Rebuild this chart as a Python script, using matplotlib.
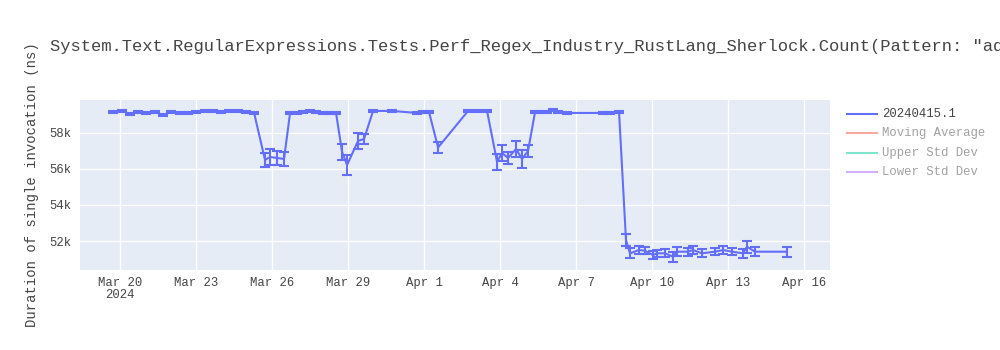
import matplotlib
matplotlib.use("Agg")
import matplotlib.pyplot as plt
from matplotlib.lines import Line2D
import pandas as pd

FONT = ["Liberation Mono", "DejaVu Sans Mono"]

dates = [
    "2024-03-19 17:20", "2024-03-20 02:00", "2024-03-20 09:30", "2024-03-20 17:00",
    "2024-03-21 00:40", "2024-03-21 09:10", "2024-03-21 16:45", "2024-03-22 00:20",
    "2024-03-22 08:50", "2024-03-22 16:25", "2024-03-23 00:00", "2024-03-23 08:30",
    "2024-03-23 16:10", "2024-03-23 23:40", "2024-03-24 07:15", "2024-03-24 15:50",
    "2024-03-24 23:20", "2024-03-25 07:00",
    "2024-03-25 17:20", "2024-03-25 22:10", "2024-03-26 04:45", "2024-03-26 11:20",
    "2024-03-26 17:05", "2024-03-26 23:40", "2024-03-27 05:25", "2024-03-27 12:00",
    "2024-03-27 17:40", "2024-03-28 00:20", "2024-03-28 07:00", "2024-03-28 12:40",
    "2024-03-28 18:20", "2024-03-28 23:05", "2024-03-29 09:30", "2024-03-29 15:10",
    "2024-03-29 23:45", "2024-03-30 17:45", "2024-03-31 17:25", "2024-03-31 23:05",
    "2024-04-01 04:45", "2024-04-01 13:20", "2024-04-02 17:45", "2024-04-03 02:15",
    "2024-04-03 11:45",
    "2024-04-03 21:15", "2024-04-04 01:55", "2024-04-04 07:40", "2024-04-04 15:15",
    "2024-04-04 20:55", "2024-04-05 02:35",
    "2024-04-05 09:15", "2024-04-05 14:00", "2024-04-05 20:35", "2024-04-06 02:15",
    "2024-04-06 07:00", "2024-04-06 15:30", "2024-04-08 01:40", "2024-04-08 08:15",
    "2024-04-08 16:50",
    "2024-04-08 23:25", "2024-04-09 03:15", "2024-04-09 11:45", "2024-04-09 17:25",
    "2024-04-10 01:00", "2024-04-10 04:50", "2024-04-10 12:25", "2024-04-10 20:00",
    "2024-04-10 23:45", "2024-04-11 10:10", "2024-04-11 14:55", "2024-04-11 23:25",
    "2024-04-12 11:45", "2024-04-12 19:20", "2024-04-13 03:50", "2024-04-13 14:15",
    "2024-04-13 18:05", "2024-04-14 01:40", "2024-04-15 08:00",
]

durations = [
    59167, 59222, 59056, 59167, 59111, 59167, 59000, 59167,
    59111, 59111, 59167, 59222, 59222, 59167, 59222, 59222,
    59167, 59111,
    56500, 56667, 56611, 56556,
    59111, 59111, 59167, 59222, 59167, 59111, 59111, 59111,
    56944, 56222, 57556, 57667, 59222, 59222, 59111, 59167,
    59167, 57194, 59222, 59222, 59222,
    56389, 56889, 56611, 57111, 56556, 57000,
    59167, 59167, 59167, 59278, 59167, 59111, 59111, 59111,
    59167,
    52056, 51317, 51500, 51461, 51222, 51317, 51317, 51128,
    51406, 51406, 51500, 51317, 51406, 51500, 51406, 51317,
    51683, 51406, 51406,
]

errors = [
    60, 60, 60, 60, 60, 60, 60, 60,
    60, 60, 60, 60, 60, 60, 60, 60,
    60, 60,
    390, 420, 390, 390,
    60, 60, 60, 60, 60, 60, 60, 60,
    420, 580, 450, 300, 60, 60, 60, 60,
    60, 280, 60, 60, 60,
    420, 450, 330, 440, 500, 330,
    60, 60, 60, 60, 60, 60, 60, 60,
    60,
    330, 280, 200, 200, 200, 200, 220, 280,
    250, 220, 220, 220, 200, 200, 200, 250,
    330, 250, 280,
]

tick_dates = ["2024-03-20", "2024-03-23", "2024-03-26", "2024-03-29", "2024-04-01",
              "2024-04-04", "2024-04-07", "2024-04-10", "2024-04-13", "2024-04-16"]
tick_labels = ["Mar 20\n2024", "Mar 23", "Mar 26", "Mar 29", "Apr 1",
               "Apr 4", "Apr 7", "Apr 10", "Apr 13", "Apr 16"]
y_ticks = [52000, 54000, 56000, 58000]
y_tick_labels = ["52k", "54k", "56k", "58k"]

series_name = "20240415.1"
hidden_series = ["Moving Average", "Upper Std Dev", "Lower Std Dev"]
hidden_colors = ["#EF553B", "#00cc96", "#ab63fa"]
title = ('System.Text.RegularExpressions.Tests.Perf_Regex_Industry_RustLang_Sherlock.'
         'Count(Pattern: "aqj", Options: None)')
ylabel = "Duration of single invocation (ns)"

LINE = "#636efa"
TXT = "#444444"

x = pd.to_datetime(dates)
fig = plt.figure(figsize=(10, 3.5), dpi=100)
ax = fig.add_axes([0.08, 1 - 270 / 350, 0.75, 170 / 350])
ax.set_facecolor("#e5ecf6")
for s in ax.spines.values():
    s.set_visible(False)

ax.errorbar(x, durations, yerr=errors, color=LINE, lw=1.5, elinewidth=1.5,
            capsize=3.5, capthick=1.5, zorder=3)

ax.set_xlim(pd.Timestamp("2024-03-18 10:00"), pd.Timestamp("2024-04-17 00:45"))
ax.set_ylim(50390, 59830)
ax.set_xticks(pd.to_datetime(tick_dates))
ax.set_xticklabels(tick_labels, fontfamily=FONT, fontsize=8.8, color=TXT,
                   linespacing=1.0)
ax.set_yticks(y_ticks)
ax.set_yticklabels(y_tick_labels, fontfamily=FONT, fontsize=8.8, color=TXT)
ax.tick_params(length=0, pad=6)
ax.tick_params(axis="x", pad=5)
ax.grid(True, color="white", lw=1, zorder=0)
ax.set_axisbelow(True)

fig.text(0.05, 1 - 47 / 350, title, fontfamily=FONT, fontsize=12.3, color=TXT,
         va="center", ha="left")
fig.text(0.032, 1 - 185 / 350, ylabel, fontfamily=FONT, fontsize=10, color=TXT,
         rotation=90, va="center", ha="center")

# legend
rows_y = [114, 133, 153, 172]
names = [series_name] + hidden_series
colors = [LINE] + hidden_colors
for i, (n, c) in enumerate(zip(names, colors)):
    yy = 1 - rows_y[i] / 350
    alpha = 1.0 if i == 0 else 0.5
    fig.add_artist(Line2D([0.847, 0.877], [yy, yy], color=c, lw=1.5, alpha=alpha,
                          transform=fig.transFigure))
    fig.text(0.882, yy, n, fontfamily=FONT, fontsize=8.8, color=TXT, alpha=alpha,
             va="center", ha="left")

fig.savefig("out.png", dpi=100)
